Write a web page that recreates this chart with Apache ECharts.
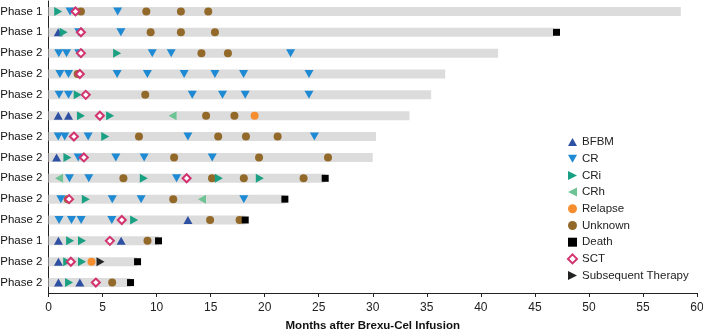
<!DOCTYPE html>
<html>
<head>
<meta charset="utf-8">
<script src="https://cdn.jsdelivr.net/npm/echarts@6/dist/echarts.min.js"></script>
<style>html,body{margin:0;padding:0;background:#fff}#c{width:703px;height:330px}</style>
</head>
<body>
<div id="c"></div>
<script>
const phaseLabels = ['Phase 1','Phase 1','Phase 2','Phase 2','Phase 2','Phase 2','Phase 2','Phase 2','Phase 2','Phase 2','Phase 2','Phase 1','Phase 2','Phase 2'];
const followUp = [58.5, 46.7, 41.6, 36.7, 35.4, 33.4, 30.3, 30.0, 25.6, 21.9, 18.2, 10.2, 8.2, 7.6];
const xTicks = [0, 5, 10, 15, 20, 25, 30, 35, 40, 45, 50, 55, 60];

// [month, row]
const bfbm = [[0.9,1],[0.9,5],[1.85,5],[0.75,7],[12.9,10],[0.92,11],[6.72,11],[0.92,12],[0.92,13],[2.9,13]];
const cr = [[2.0,0],[6.4,0],[2.8,1],[6.7,1],
  [0.95,2],[1.67,2],[2.8,2],[9.6,2],[11.35,2],[22.4,2],
  [1.05,3],[1.85,3],[6.35,3],[9.15,3],[12.55,3],[15.4,3],[18.05,3],[24.1,3],
  [0.98,4],[1.85,4],[13.3,4],[16.1,4],[18.2,4],[24.1,4],
  [0.9,6],[1.5,6],[3.67,6],[12.9,6],[24.6,6],
  [2.75,7],[6.23,7],[8.85,7],[15.15,7],
  [1.94,8],[3.73,8],[11.85,8],
  [1.14,9],[5.9,9],[8.57,9],[18.07,9],
  [0.98,10],[2.13,10],[3.02,10],[5.86,10]];
const cri = [[0.9,0],[1.4,1],[6.35,2],[2.7,4],[3.0,5],[5.7,5],[5.25,6],[1.75,7],
  [8.82,8],[15.76,8],[19.55,8],[3.45,9],[7.92,10],[2.0,11],[3.1,11],[1.73,12],[3.1,12],[1.9,13]];
const crh = [[11.48,5],[0.98,8],[14.2,9]];
const relapse = [[19.07,5],[3.98,12]];
const unknown = [[3.0,0],[9.05,0],[12.25,0],[14.78,0],[9.45,1],[12.25,1],[15.4,1],
  [14.15,2],[16.6,2],[2.7,3],[8.95,4],[14.58,5],[17.2,5],
  [8.37,6],[15.7,6],[18.27,6],[21.2,6],[11.62,7],[19.48,7],[25.86,7],
  [6.93,8],[15.13,8],[18.07,8],[23.6,8],[1.78,9],[11.54,9],[14.95,10],[17.68,10],
  [9.16,11],[5.89,13]];
const death = [[47.0,1],[25.6,8],[21.87,9],[18.2,10],[10.18,11],[8.24,12],[7.59,13]];
const sct = [[2.5,0],[3.0,1],[3.0,2],[2.9,3],[3.45,4],[4.75,5],[2.35,6],[3.27,7],[12.78,8],[1.9,9],[6.78,10],[5.68,11],[2.07,12],[4.38,13]];
const subsequent = [[4.81,12]];

const FONT = 'Liberation Sans, Arial, sans-serif';
const triRight = 'path://M0,0 L10,5 L0,10 Z';
const triLeft = 'path://M10,0 L0,5 L10,10 Z';
const triDown = 'path://M0,0 L10,0 L5,9 Z';
const triUp = 'path://M5,0 L10,9 L0,9 Z';

function sc(name, data, symbol, size, color, extra) {
  return Object.assign({
    name, type: 'scatter', data, symbol, symbolSize: size,
    itemStyle: { color, opacity: 1 }, z: 3, silent: true
  }, extra || {});
}

const chart = echarts.init(document.getElementById('c'), null, { renderer: 'canvas' });
chart.setOption({
  animation: false,
  textStyle: { fontFamily: FONT },
  grid: { left: 48.5, right: 6, top: 1, bottom: 37, containLabel: false, outerBoundsMode: 'none' },
  xAxis: {
    type: 'value', min: 0, max: 60, interval: 5,
    name: 'Months after Brexu-Cel Infusion', nameLocation: 'middle', nameGap: 27,
    nameTextStyle: { fontWeight: 'bold', fontSize: 11.5, color: '#111', fontFamily: FONT },
    axisLine: { show: true, lineStyle: { color: '#222', width: 1 } },
    axisTick: { show: true, length: 4, lineStyle: { color: '#222' }, customValues: xTicks },
    axisLabel: { fontSize: 12, color: '#222', margin: 9, fontFamily: FONT, customValues: xTicks },
    splitLine: { show: false }
  },
  yAxis: {
    type: 'category', inverse: true, data: phaseLabels,
    axisLine: { show: true, lineStyle: { color: '#222', width: 1 } },
    axisTick: { show: false },
    axisLabel: { fontSize: 11.5, color: '#111', margin: 6, fontFamily: FONT },
    splitLine: { show: false }
  },
  legend: {
    orient: 'vertical', left: 562, top: 131,
    itemWidth: 9, itemHeight: 9, itemGap: 4.7,
    textStyle: { fontSize: 11.5, color: '#222', fontFamily: FONT },
    data: ['BFBM','CR','CRi','CRh','Relapse','Unknown','Death','SCT','Subsequent Therapy'],
    selectedMode: false
  },
  series: [
    {
      type: 'bar', data: followUp.map((v, i) => [v, i]), encode: { x: 0, y: 1 },
      barWidth: 9, itemStyle: { color: '#dcdcdc' }, z: 1, silent: true
    },
    sc('BFBM', bfbm, triUp, [9, 8], '#2e50a3'),
    sc('CR', cr, triDown, [9, 8], '#1e8ad3'),
    sc('CRi', cri, triRight, [8, 9], '#1aa083'),
    sc('CRh', crh, triLeft, [8, 9], '#6dc393'),
    sc('Relapse', relapse, 'circle', 8, '#f68e2f'),
    sc('Unknown', unknown, 'circle', 8, '#93692a', { z: 2 }),
    sc('Death', death, 'rect', 7, '#000000', { z: 4 }),
    sc('SCT', sct, 'diamond', 8, '#ffffff', { itemStyle: { color: '#ffffff', borderColor: '#d2336e', borderWidth: 2, opacity: 1 }, z: 4 }),
    sc('Subsequent Therapy', subsequent, triRight, [8, 9], '#222222', { z: 4 })
  ]
});
</script>
</body>
</html>
